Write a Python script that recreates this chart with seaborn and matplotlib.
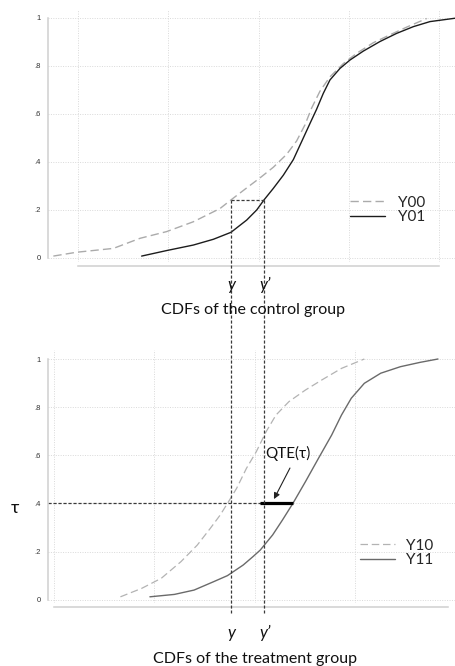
import numpy as np
import pandas as pd
import matplotlib
matplotlib.use("Agg")
import matplotlib.pyplot as plt
import seaborn as sns
from matplotlib.lines import Line2D
from matplotlib.transforms import blended_transform_factory

# ---- control group CDFs (outcome scale of the upper panel) ----
y00_x = [-0.273, -0.015, 0.392, 0.687, 0.982, 1.278, 1.573, 1.695, 1.869, 2.017, 2.164,
         2.312, 2.423, 2.515, 2.589, 2.681, 2.792, 2.940, 3.088, 3.272, 3.457, 3.642, 3.864]
y00_p = [0.008, 0.024, 0.040, 0.082, 0.110, 0.151, 0.206, 0.242, 0.292, 0.334, 0.378,
         0.432, 0.488, 0.555, 0.625, 0.695, 0.755, 0.810, 0.853, 0.897, 0.930, 0.962, 0.998]
y01_x = [0.705, 0.982, 1.278, 1.500, 1.695, 1.869, 1.980, 2.061, 2.164, 2.275, 2.386,
         2.478, 2.571, 2.644, 2.718, 2.792, 2.903, 3.014, 3.161, 3.346, 3.531, 3.716,
         3.900, 4.177]
y01_p = [0.008, 0.031, 0.054, 0.078, 0.107, 0.158, 0.200, 0.242, 0.290, 0.345, 0.410,
         0.485, 0.561, 0.620, 0.686, 0.742, 0.790, 0.825, 0.862, 0.902, 0.936, 0.964,
         0.985, 0.999]

# ---- treatment group CDFs (outcome scale of the lower panel) ----
y10_x = [0.661, 0.873, 1.069, 1.265, 1.428, 1.559, 1.657, 1.729, 1.821, 1.919, 2.017,
         2.115, 2.213, 2.343, 2.507, 2.671, 2.867, 3.095]
y10_p = [0.012, 0.047, 0.089, 0.158, 0.227, 0.297, 0.352, 0.400, 0.463, 0.546, 0.615,
         0.698, 0.767, 0.823, 0.871, 0.913, 0.961, 1.000]
y11_x = [0.955, 1.200, 1.396, 1.592, 1.729, 1.886, 1.984, 2.056, 2.180, 2.278, 2.382,
         2.507, 2.637, 2.769, 2.867, 2.965, 3.095, 3.259, 3.455, 3.651, 3.830]
y11_p = [0.012, 0.022, 0.040, 0.075, 0.100, 0.144, 0.179, 0.206, 0.269, 0.331, 0.400,
         0.490, 0.587, 0.684, 0.767, 0.837, 0.899, 0.941, 0.968, 0.986, 1.000]

# ---- reference points ----
y_pt = 1.695        # y, upper-panel scale
y_prime = 2.061     # y', upper-panel scale
p_match = 0.242     # F00(y) = F01(y')
tau = 0.40
qte_start, qte_end = 2.058, 2.382   # lower-panel scale

y_ticks = [0, 0.2, 0.4, 0.6, 0.8, 1.0]
y_ticklabels = ["0", ".2", ".4", ".6", ".8", "1"]

sns.set_style("white")
plt.rcParams["font.family"] = ["Lato", "DejaVu Sans"]

W, H = 455, 666
fig = plt.figure(figsize=(W / 100, H / 100), dpi=100)


def px_axes(left, top, right, bottom):
    return fig.add_axes([left / W, 1 - bottom / H, (right - left) / W, (bottom - top) / H])


def fy(py):
    return 1 - py / H


GRID = "#d9d9d9"
SPINE = "#cfcfcf"
CONN = "#3a3a3a"
DOTS = (0, (2.5, 1.5))


def style_axes(ax, xticks, xbound, outward_pt):
    ax.set_facecolor("none")
    for s in ("top", "right"):
        ax.spines[s].set_visible(False)
    for s in ("left", "bottom"):
        ax.spines[s].set_color(SPINE)
        ax.spines[s].set_linewidth(1.1)
    ax.spines["left"].set_bounds(0, 1)
    ax.spines["bottom"].set_bounds(*xbound)
    ax.spines["bottom"].set_position(("outward", outward_pt))
    ax.set_yticks(y_ticks)
    ax.set_yticklabels(y_ticklabels, family=["Liberation Sans", "DejaVu Sans"])
    ax.set_xticks(xticks)
    ax.set_xticklabels([])
    ax.tick_params(axis="y", length=3, width=0.8, color=SPINE, labelsize=5.5,
                   labelcolor="#333333", pad=2)
    ax.tick_params(axis="x", length=3, width=0.8, color=SPINE, direction="out")
    ax.grid(True, color=GRID, linestyle=(0, (1, 1.5)), linewidth=0.7)
    ax.set_axisbelow(True)
    ax.set_xlabel("")
    ax.set_ylabel("")


def draw_cdf(ax, xs, ps, name, color, lw, dashed):
    df = pd.DataFrame({"x": xs, "p": ps})
    sns.lineplot(data=df, x="x", y="p", ax=ax, sort=False, estimator=None,
                 color=color, linewidth=lw, label=name)
    line = ax.lines[-1]
    line.set_solid_joinstyle("round")
    line.set_dash_joinstyle("round")
    if dashed:
        line.set_dashes((6, 3))


# ---------------- upper panel: control group ----------------
ax1 = px_axes(48, 10, 455, 262)
ax1.set_xlim((48 - 78) / 90.25, (455 - 78) / 90.25)
ax1.set_ylim((258 - 262) / 240, (258 - 10) / 240)

draw_cdf(ax1, y00_x, y00_p, "Y00", "#ababab", 1.0, True)
draw_cdf(ax1, y01_x, y01_p, "Y01", "#1c1c1c", 1.0, False)
style_axes(ax1, [0, 1, 2, 3, 4], (0, 4), 2.6)

ax1.plot([y_pt, y_prime], [p_match, p_match], color=CONN, lw=0.9, linestyle=DOTS)

ax1.legend(handles=[Line2D([], [], color="#ababab", lw=1.0, dashes=(6, 3)),
                    Line2D([], [], color="#1c1c1c", lw=1.0)],
           labels=["Y00", "Y01"], loc="center left",
           bbox_to_anchor=(350 / W, fy(210)), bbox_transform=fig.transFigure,
           frameon=False, fontsize=11, handlelength=2.3, handletextpad=0.85,
           labelspacing=0.05, borderpad=0, borderaxespad=0)

# ---------------- lower panel: treatment group ----------------
ax2 = px_axes(48, 350, 455, 603)
ax2.set_xlim((48 - 54.3) / 102, (455 - 54.3) / 102)
ax2.set_ylim((599.7 - 603) / 240.7, (599.7 - 350) / 240.7)

draw_cdf(ax2, y10_x, y10_p, "Y10", "#b3b3b3", 0.9, True)
draw_cdf(ax2, y11_x, y11_p, "Y11", "#6a6a6a", 1.0, False)
style_axes(ax2, [0, 1, 2, 3, 4], (0, (455 - 54.3) / 102), 2.9)

# tau level and the quantile treatment effect segment
ax2.plot([ax2.get_xlim()[0], qte_end], [tau, tau], color=CONN, lw=0.9,
         linestyle=DOTS, clip_on=False)
ax2.plot([qte_start, qte_end], [tau, tau], color="black", lw=2.3,
         solid_capstyle="butt", zorder=5)
ax2.annotate("", xy=(2.193, 0.418), xytext=(2.353, 0.547),
             arrowprops=dict(arrowstyle="-|>", color="#222222", lw=0.8,
                             mutation_scale=9, shrinkA=0, shrinkB=0))
ax2.text(2.33, 0.609, "QTE(τ)", fontsize=11, ha="center", va="center",
         color="#111111")

ax2.legend(handles=[Line2D([], [], color="#b3b3b3", lw=0.9, dashes=(6, 3)),
                    Line2D([], [], color="#6a6a6a", lw=1.0)],
           labels=["Y10", "Y11"], loc="center left",
           bbox_to_anchor=(360 / W, fy(553)), bbox_transform=fig.transFigure,
           frameon=False, fontsize=11, handlelength=2.3, handletextpad=0.7,
           labelspacing=0.05, borderpad=0, borderaxespad=0)

# vertical guides at y and y' running through both panels
bt = blended_transform_factory(ax1.transData, fig.transFigure)
fig.canvas.draw()
top_fy = ax1.transData.transform((0, p_match))[1] / fig.bbox.height
for xv in (y_pt, y_prime):
    fig.add_artist(Line2D([xv, xv], [top_fy, fy(613)], transform=bt, color=CONN,
                          lw=0.9, linestyle=DOTS))

# text labels
for yy in (285, 633):
    fig.text(231 / W, fy(yy), "y", fontsize=12, style="italic", ha="center",
             va="center", color="#111111")
    fig.text(265 / W, fy(yy), "y\u2019", fontsize=12, style="italic", ha="center",
             va="center", color="#111111")
fig.text(253 / W, fy(310), "CDFs of the control group", fontsize=11.5,
         ha="center", va="center", color="#111111")
fig.text(255 / W, fy(659), "CDFs of the treatment group", fontsize=11.5,
         ha="center", va="center", color="#111111")
fig.text(15 / W, fy(508), "τ", fontsize=13, ha="center", va="center",
         color="#111111")

fig.savefig("out.png", dpi=100)
